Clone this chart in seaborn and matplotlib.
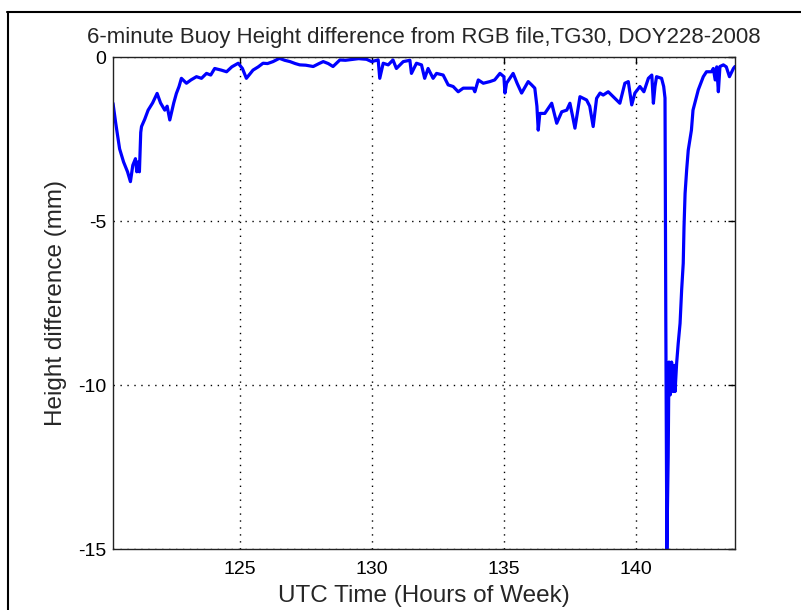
import matplotlib
matplotlib.use("Agg")
import matplotlib.pyplot as plt
from matplotlib.lines import Line2D
import seaborn as sns
import pandas as pd

hours = [120.2, 120.3, 120.45, 120.6, 120.75, 120.86, 120.95, 121.05, 121.1, 121.15, 121.2, 121.25,
         121.28, 121.4, 121.53, 121.7, 121.87, 122.0, 122.16, 122.25, 122.35, 122.5, 122.6, 122.7,
         122.79, 122.98, 123.15, 123.36, 123.55, 123.74, 123.9, 124.05, 124.3, 124.5, 124.7, 124.94,
         125.1, 125.25, 125.5, 125.7, 125.88, 126.05, 126.26, 126.5, 126.7, 126.9, 127.1, 127.27,
         127.5, 127.78, 128.0, 128.16, 128.35, 128.53, 128.79, 129.0, 129.29, 129.5, 129.8, 129.99,
         130.24, 130.3, 130.43, 130.62, 130.8, 130.93, 131.19, 131.44, 131.5, 131.69, 131.88, 132.0,
         132.13, 132.32, 132.45, 132.7, 132.89, 133.08, 133.27, 133.46, 133.65, 133.84, 133.9, 134.03,
         134.22, 134.47, 134.65, 134.85, 135.0, 135.04, 135.1, 135.35, 135.5, 135.67, 135.92, 136.05,
         136.17, 136.25, 136.3, 136.36, 136.55, 136.81, 137.0, 137.19, 137.38, 137.5, 137.6, 137.69,
         137.88, 138.13, 138.25, 138.38, 138.51, 138.64, 138.76, 138.95, 139.14, 139.39, 139.58, 139.71,
         139.84, 139.96, 140.15, 140.3, 140.47, 140.6, 140.66, 140.72, 140.78, 140.97, 141.05, 141.1,
         141.13, 141.17, 141.22, 141.25, 141.3, 141.35, 141.4, 141.45, 141.48, 141.54, 141.6, 141.67,
         141.73, 141.79, 141.82, 141.86, 141.92, 141.98, 142.1, 142.16, 142.36, 142.55, 142.67, 142.86,
         142.93, 143.0, 143.06, 143.12, 143.18, 143.31, 143.42, 143.54, 143.69, 143.75]
height_diff = [-1.41, -2.0, -2.8, -3.2, -3.5, -3.8, -3.3, -3.1, -3.5, -3.2, -3.5, -2.3,
               -2.12, -1.9, -1.62, -1.4, -1.11, -1.4, -1.62, -1.5, -1.92, -1.4, -1.11, -0.9,
               -0.65, -0.8, -0.7, -0.6, -0.65, -0.5, -0.55, -0.35, -0.4, -0.45, -0.3, -0.19,
               -0.35, -0.65, -0.4, -0.3, -0.19, -0.2, -0.14, -0.04, -0.1, -0.14, -0.2, -0.24,
               -0.25, -0.29, -0.2, -0.14, -0.2, -0.29, -0.09, -0.1, -0.07, -0.05, -0.07, -0.14,
               -0.09, -0.65, -0.19, -0.24, -0.09, -0.35, -0.14, -0.1, -0.5, -0.19, -0.24, -0.65,
               -0.35, -0.65, -0.5, -0.55, -0.85, -0.9, -1.06, -0.95, -0.95, -0.95, -1.06, -0.7,
               -0.8, -0.75, -0.7, -0.5, -0.6, -1.1, -0.8, -0.5, -0.8, -1.1, -0.75, -0.85,
               -0.95, -1.5, -2.23, -1.72, -1.72, -1.41, -2.02, -1.67, -1.62, -1.41, -1.8, -2.17,
               -1.21, -1.31, -1.5, -2.12, -1.26, -1.1, -1.16, -1.06, -1.21, -1.41, -0.8, -0.75,
               -1.46, -1.1, -0.9, -1.06, -0.65, -0.55, -1.41, -0.9, -0.6, -0.65, -0.9, -1.25,
               -8.0, -15.0, -12.2, -9.3, -10.3, -9.3, -10.2, -9.4, -10.2, -9.34, -8.73, -8.12,
               -7.1, -6.29, -5.17, -4.16, -3.44, -2.84, -2.23, -1.62, -1.0, -0.6, -0.45, -0.45,
               -0.35, -0.7, -0.3, -1.06, -0.29, -0.24, -0.3, -0.6, -0.35, -0.29]

x_ticks = [125, 130, 135, 140]
y_ticks = [-15, -10, -5, 0]
title = "6-minute Buoy Height difference from RGB file,TG30, DOY228-2008"
xlabel = "UTC Time (Hours of Week)"
ylabel = "Height difference (mm)"

sns.set_theme(style="white")
plt.rcParams['font.family'] = ['Liberation Sans', 'DejaVu Sans']

df = pd.DataFrame({"hour": hours, "diff": height_diff})

fig = plt.figure(figsize=(8.01, 6.10), dpi=100)
ax = fig.add_axes([113/801, 61/610, 622/801, 492/610])
sns.lineplot(data=df, x="hour", y="diff", ax=ax, sort=False, estimator=None,
             color="#0000FF", linewidth=2.3)

ax.set_xlim(120.2, 143.75)
ax.set_ylim(-15, 0)
ax.set_xticks(x_ticks)
ax.set_yticks(y_ticks)
ax.set_xticklabels([str(t) for t in x_ticks])
ax.set_yticklabels([str(t) for t in y_ticks])
ax.tick_params(direction="in", length=5, width=1, top=True, right=True,
               labelsize=14, colors="black")
ax.tick_params(axis="x", pad=9)
ax.tick_params(axis="y", pad=5)
ax.grid(True, linestyle=(0, (1, 4)), color="black", linewidth=1)
for s in ax.spines.values():
    s.set_color("#222222")
    s.set_linewidth(1)
ax.set_title(title, fontsize=16, pad=10)
ax.set_xlabel(xlabel, fontsize=17.5, labelpad=5)
ax.set_ylabel(ylabel, fontsize=17.5, labelpad=8)

fig.add_artist(Line2D([7.5/801, 7.5/801], [0, 1 - 12/610], transform=fig.transFigure,
                      color="black", linewidth=1.5))
fig.add_artist(Line2D([7/801, 1], [1 - 12/610, 1 - 12/610], transform=fig.transFigure,
                      color="black", linewidth=1.5))

fig.savefig("out.png", dpi=100)
